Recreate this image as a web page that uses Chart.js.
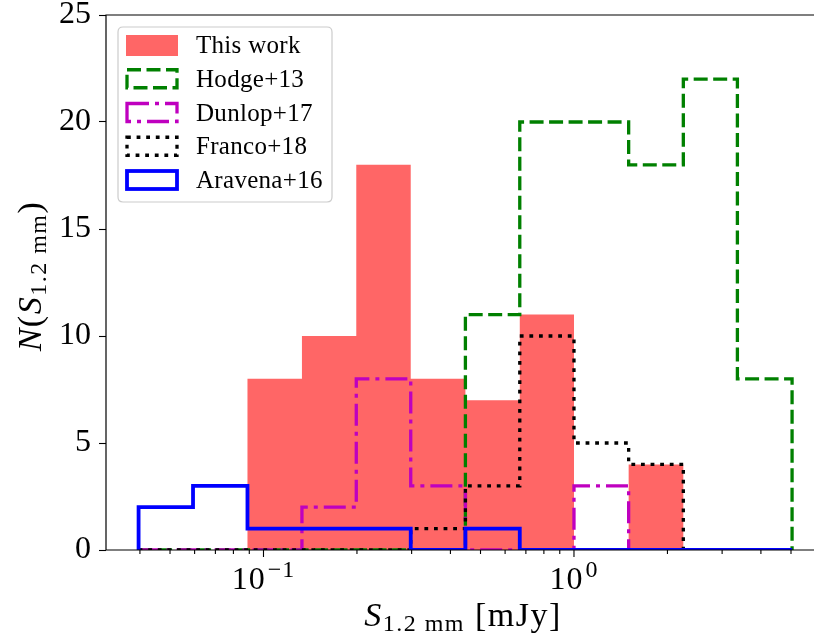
<!DOCTYPE html>
<html>
<head>
<meta charset="utf-8">
<script src="https://cdn.jsdelivr.net/npm/chart.js@4/dist/chart.umd.min.js"></script>
<style>
  html, body { margin: 0; padding: 0; background: #ffffff; overflow: hidden; }
  #wrap { width: 814px; height: 642px; }
</style>
</head>
<body>
<div id="wrap"><canvas id="c" width="814" height="642"></canvas></div>
<script>
// ---- data ----
const binEdges = [0.0396, 0.0593, 0.0888, 0.133, 0.199, 0.298, 0.447, 0.669, 1.0, 1.50, 2.25, 3.36, 5.04];
const thisWork = [0, 0, 8, 10, 18, 8, 7, 11, 0, 4, 0, 0];
const hodge13  = [0, 0, 0, 0, 0, 0, 11, 20, 20, 18, 22, 8];
const dunlop17 = [0, 0, 0, 2, 8, 3, 0, 0, 3, 0, 0, 0];
const franco18 = [0, 0, 0, 0, 0, 1, 3, 10, 5, 4, 0, 0];
const aravena16 = [2, 3, 1, 1, 1, 0, 1, 0, 0, 0, 0, 0];
const seriesNames = ['This work', 'Hodge+13', 'Dunlop+17', 'Franco+18', 'Aravena+16'];
const yTicks = [0, 5, 10, 15, 20, 25];
const xMajorTicks = [0.1, 1];
const xMajorLabels = [['10', '\u22121'], ['10', '0']];
const xMinorTicks = [0.04, 0.05, 0.06, 0.07, 0.08, 0.09, 0.2, 0.3, 0.4, 0.5, 0.6, 0.7, 0.8, 0.9, 2, 3, 4, 5];

// histogram outline points (step polygon) from edges + counts
function stepPoints(counts) {
  const pts = [{x: binEdges[0], y: 0}];
  counts.forEach((c, i) => pts.push({x: binEdges[i], y: c}));
  pts.push({x: binEdges[binEdges.length - 1], y: 0});
  return pts;
}

const SERIF = "'Liberation Serif', 'DejaVu Serif', serif";

const datasets = [
  { label: seriesNames[0], data: stepPoints(thisWork), stepped: 'before', fill: 'origin',
    backgroundColor: '#ff6666', borderColor: 'rgba(0,0,0,0)', borderWidth: 0, order: 5 },
  { label: seriesNames[1], data: stepPoints(hodge13), stepped: 'before', fill: false,
    borderColor: '#008000', borderWidth: 3.3, borderDash: [14, 5.5], order: 4 },
  { label: seriesNames[2], data: stepPoints(dunlop17), stepped: 'before', fill: false,
    borderColor: '#bf00bf', borderWidth: 3.3, borderDash: [22, 6, 4, 6], order: 3 },
  { label: seriesNames[3], data: stepPoints(franco18), stepped: 'before', fill: false,
    borderColor: '#000000', borderWidth: 3.3, borderDash: [3.8, 5.8], order: 2 },
  { label: seriesNames[4], data: stepPoints(aravena16), stepped: 'before', fill: false,
    borderColor: '#0000ff', borderWidth: 3.8, order: 1 }
];

function drawSegments(ctx, segs, cx, baseline, spacing) {
  ctx.letterSpacing = (spacing || 0) + 'px';
  let total = 0;
  segs.forEach(s => { ctx.font = s.font; s.w = ctx.measureText(s.t).width; total += s.w; });
  let x = cx - total / 2;
  ctx.textAlign = 'left';
  ctx.textBaseline = 'alphabetic';
  segs.forEach(s => { ctx.font = s.font; ctx.fillText(s.t, x, baseline + (s.dy || 0)); x += s.w; });
  ctx.letterSpacing = '0px';
}

const overlay = {
  id: 'overlay',
  afterDraw(chart) {
    const ctx = chart.ctx;
    const a = chart.chartArea;
    const xs = chart.scales.x;
    ctx.save();
    // spines (right spine lies outside the picture)
    ctx.strokeStyle = '#000'; ctx.lineWidth = 1.2; ctx.setLineDash([]);
    ctx.beginPath();
    ctx.moveTo(a.left, a.bottom); ctx.lineTo(a.left, a.top); ctx.lineTo(a.right + 2, a.top);
    ctx.moveTo(a.left, a.bottom); ctx.lineTo(a.right + 2, a.bottom);
    ctx.stroke();
    // x ticks
    ctx.lineWidth = 1.1;
    ctx.beginPath();
    xMajorTicks.forEach(v => { const px = xs.getPixelForValue(v); ctx.moveTo(px, a.bottom); ctx.lineTo(px, a.bottom + 7); });
    xMinorTicks.forEach(v => { const px = xs.getPixelForValue(v); if (px >= a.left && px <= a.right) { ctx.moveTo(px, a.bottom); ctx.lineTo(px, a.bottom + 4); } });
    ctx.stroke();
    // x tick labels with superscripts
    ctx.fillStyle = '#000';
    xMajorTicks.forEach((v, i) => {
      const px = xs.getPixelForValue(v);
      drawSegments(ctx, [
        {t: xMajorLabels[i][0], font: '32px ' + SERIF},
        {t: ' ', font: '4px ' + SERIF},
        {t: xMajorLabels[i][1], font: '24px ' + SERIF, dy: -12}
      ], px, 589, 1);
    });
    // x axis title
    drawSegments(ctx, [
      {t: 'S', font: 'italic 34px ' + SERIF},
      {t: '1.2 mm', font: '24px ' + SERIF, dy: 5},
      {t: ' [mJy]', font: '34px ' + SERIF}
    ], 463, 626, 1.5);
    // y axis title
    ctx.save();
    ctx.translate(41, 276);
    ctx.rotate(-Math.PI / 2);
    drawSegments(ctx, [
      {t: 'N', font: 'italic 34px ' + SERIF},
      {t: '(', font: '34px ' + SERIF},
      {t: 'S', font: 'italic 34px ' + SERIF},
      {t: '1.2 mm', font: '24px ' + SERIF, dy: 5},
      {t: ')', font: '34px ' + SERIF}
    ], 0, 0, 1.5);
    ctx.restore();
    // legend
    const lx = 118, ly = 27, lw = 214, lh = 175, r = 5;
    ctx.beginPath();
    ctx.moveTo(lx + r, ly); ctx.lineTo(lx + lw - r, ly); ctx.quadraticCurveTo(lx + lw, ly, lx + lw, ly + r);
    ctx.lineTo(lx + lw, ly + lh - r); ctx.quadraticCurveTo(lx + lw, ly + lh, lx + lw - r, ly + lh);
    ctx.lineTo(lx + r, ly + lh); ctx.quadraticCurveTo(lx, ly + lh, lx, ly + lh - r);
    ctx.lineTo(lx, ly + r); ctx.quadraticCurveTo(lx, ly, lx + r, ly);
    ctx.closePath();
    ctx.fillStyle = 'rgba(255,255,255,0.8)'; ctx.fill();
    ctx.strokeStyle = '#cccccc'; ctx.lineWidth = 1.2; ctx.stroke();
    chart.data.datasets.forEach((ds, i) => {
      const cy = 45 + i * 33.75;
      const bx = 127, bw = 50, bh = 18;
      if (ds.fill) {
        ctx.fillStyle = ds.backgroundColor;
        ctx.fillRect(126, cy - 10, 52, 21);
      } else {
        ctx.strokeStyle = ds.borderColor;
        ctx.lineWidth = ds.borderWidth;
        ctx.setLineDash(ds.borderDash || []);
        ctx.strokeRect(bx, cy - bh / 2, bw, bh);
        ctx.setLineDash([]);
      }
      ctx.fillStyle = '#000';
      ctx.font = '25px ' + SERIF;
      ctx.letterSpacing = '0.3px';
      ctx.textAlign = 'left'; ctx.textBaseline = 'alphabetic';
      ctx.fillText(ds.label, 196, cy + 8);
      ctx.letterSpacing = '0px';
    });
    ctx.restore();
  }
};

new Chart(document.getElementById('c'), {
  type: 'line',
  data: { datasets },
  options: {
    responsive: false,
    animation: false,
    events: [],
    layout: { padding: { left: 0, right: 0, top: 15, bottom: 0 } },
    elements: { point: { radius: 0 }, line: { tension: 0, borderCapStyle: 'butt', borderJoinStyle: 'miter' } },
    plugins: { legend: { display: false }, tooltip: { enabled: false } },
    scales: {
      x: {
        type: 'logarithmic',
        min: 0.0311,
        max: 5.93,
        ticks: { display: false },
        grid: { display: false },
        border: { display: false },
        afterFit(s) { s.height = 92; s.paddingLeft = 0; s.paddingRight = 0; }
      },
      y: {
        type: 'linear',
        min: 0,
        max: 25,
        afterBuildTicks(s) { s.ticks = yTicks.map(v => ({value: v})); },
        ticks: { color: '#000', font: { family: SERIF, size: 32 }, padding: 8 },
        grid: { drawOnChartArea: false, drawTicks: true, tickLength: 7, tickColor: '#000', tickWidth: 1.1 },
        border: { display: false },
        afterFit(s) { s.width = 106; s.paddingTop = 0; s.paddingBottom = 0; }
      }
    }
  },
  plugins: [overlay]
});
</script>
</body>
</html>
